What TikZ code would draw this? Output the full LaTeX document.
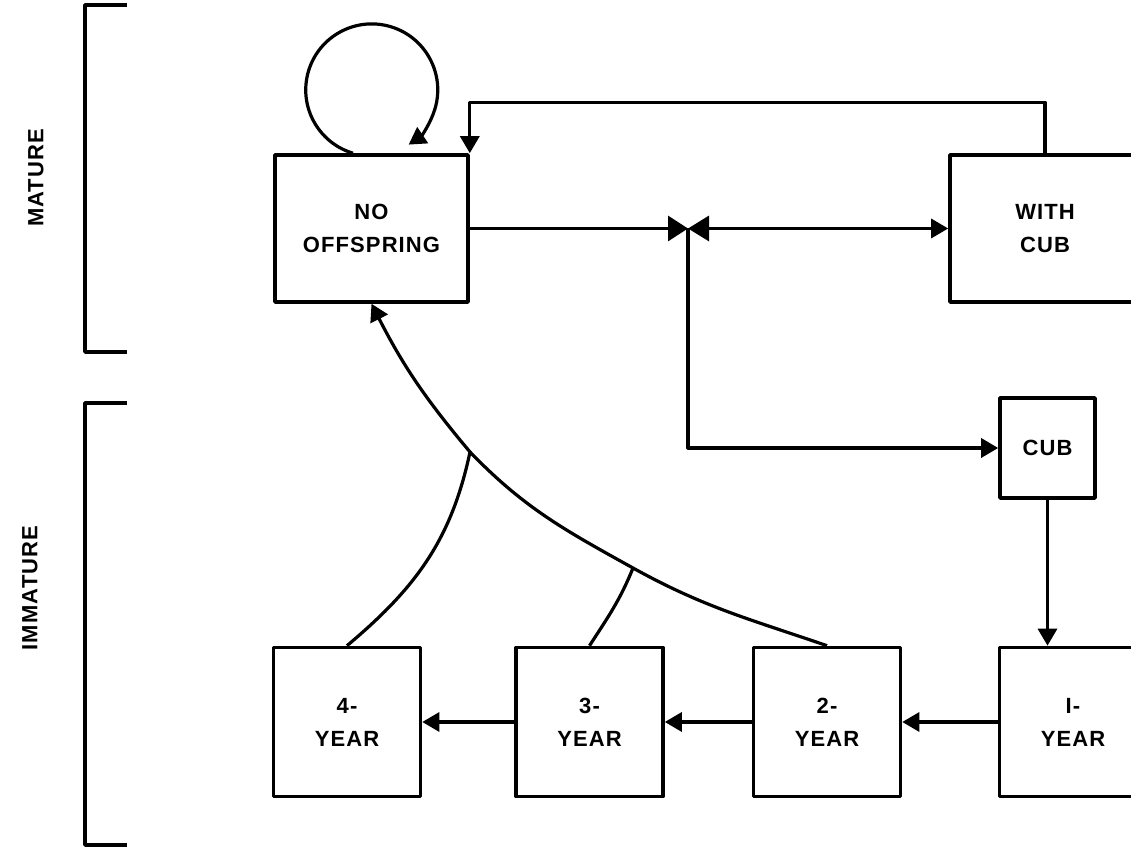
\documentclass[tikz,border=0pt]{standalone}
\usepackage{fontspec}
\setmainfont{Liberation Sans}[LetterSpace=5.0]
\usetikzlibrary{arrows.meta}

\begin{document}
\begin{tikzpicture}[x=0.5pt, y=0.5pt, line width=1.6pt, line join=round,
  >={Triangle[length=8.5pt,width=9.5pt]},
  stage/.style={draw, line width=1.8pt, align=center, font=\fontsize{11}{16.5}\selectfont\bfseries},
  yearbox/.style={stage, minimum width=73.5pt, minimum height=74.5pt}]
  \useasboundingbox (0,0) rectangle (1131,850);
  % mature states
  \node[stage, minimum width=96.5pt, minimum height=73.5pt] (noff) at (371.5,621.5) {NO\\OFFSPRING};
  \node[stage, minimum width=95pt, minimum height=73.5pt] (wcub) at (1045,621.5) {WITH\\CUB};
  % immature states
  \node[stage, minimum width=47.5pt, minimum height=50pt] (cub) at (1047.5,402) {CUB};
  \node[yearbox] (oneyr) at (1073,128) {I-\\YEAR};
  \node[yearbox] (twoyr) at (827,128) {2-\\YEAR};
  \node[yearbox] (thryr) at (589.5,128) {3-\\YEAR};
  \node[yearbox] (fouryr) at (347,128) {4-\\YEAR};
  \coordinate (j) at (688,621.5);
  \coordinate (j3) at (633,282);
  \coordinate (j4) at (470,398);
  % connectors
  \draw[->] (noff.north) ++(-18.5,0) arc[start angle=253.5, end angle=-56, radius=66];
  \draw[->] (wcub.north) -- ++(0,51) -| (noff.north east);
  \draw[-{Triangle[length=10pt,width=12.5pt]}] (noff) -- (j);
  \draw[{Triangle[length=10.5pt,width=12.5pt]}->] (j) -- (wcub);
  \draw[->] (j) |- (cub.west);
  \draw[->] (cub.south) -- (cub.south |- oneyr.north);
  \draw[->] (oneyr) -- (twoyr);
  \draw[->] (twoyr) -- (thryr);
  \draw[->] (thryr) -- (fouryr);
  \draw[->] (twoyr.north) to[out=161,in=-29] (j3) to[out=151,in=-46] (j4) to[out=130,in=-63] (noff.south);
  \draw (thryr.north) to[out=57,in=-112] (j3);
  \draw (fouryr.north) to[out=40,in=-102] (j4);
  % brackets
  \draw[line width=1.8pt] (127,845) -- (85,845) -- (85,498) -- (127,498);
  \draw[line width=1.8pt] (127,447) -- (85,447) -- (85,5) -- (127,5);
  \node[rotate=90, font=\fontsize{11}{16}\selectfont\bfseries] (mat) at (36,672) {MATURE};
  \node[rotate=90, font=\fontsize{11}{16}\selectfont\bfseries] (immat) at (30,262) {IMMATURE};
\end{tikzpicture}
\end{document}
